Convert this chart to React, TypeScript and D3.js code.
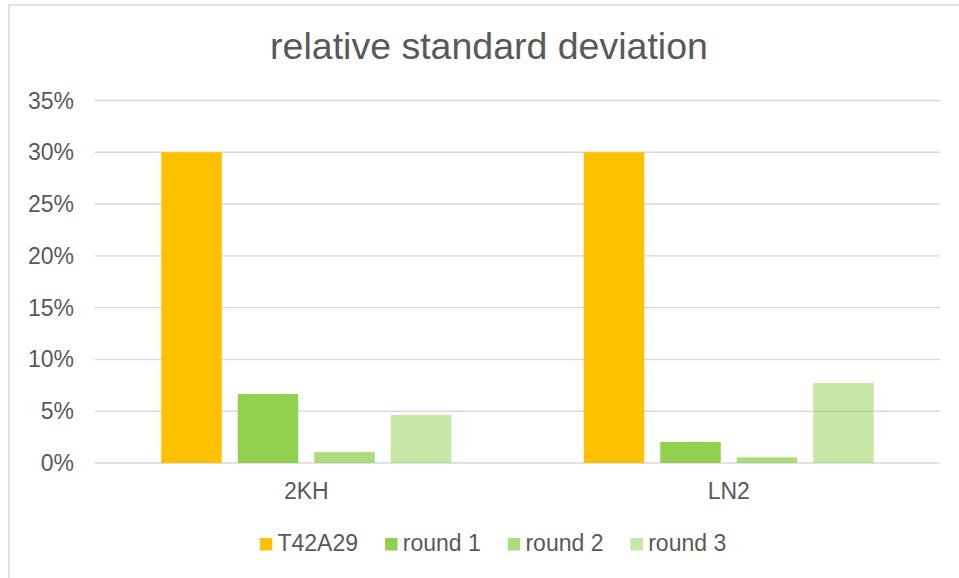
import React, { useEffect, useRef } from "react";
import * as d3 from "d3";

const categories = ["2KH", "LN2"];
const seriesNames = ["T42A29", "round 1", "round 2", "round 3"];
const t42a29 = [0.30, 0.30];
const round1 = [0.0666, 0.0203];
const round2 = [0.0106, 0.0055];
const round3 = [0.0463, 0.0772];
const yTicks = [0, 0.05, 0.10, 0.15, 0.20, 0.25, 0.30, 0.35];
const title = "relative standard deviation";

const seriesValues = [t42a29, round1, round2, round3];
const seriesColors = ["#FFC000", "#92D050", "#92D050", "#92D050"];
const seriesOpacity = [1, 1, 0.75, 0.5];

const W = 959;
const H = 578;
const FONT = "'Liberation Sans', Arial, sans-serif";
const TEXT = "#595959";
const GRID = "#D9D9D9";

export default function App() {
  const ref = useRef<SVGSVGElement | null>(null);

  useEffect(() => {
    const svg = d3.select(ref.current);
    svg.selectAll("*").remove();

    const plotLeft = 95;
    const plotRight = 940;
    const plotTop = 100.5;
    const plotBottom = 463;

    // chart border
    svg.append("rect")
      .attr("x", 9).attr("y", 5)
      .attr("width", 970).attr("height", 600)
      .attr("fill", "#fff")
      .attr("stroke", GRID).attr("stroke-width", 1.6);

    const y = d3.scaleLinear().domain([0, 0.35]).range([plotBottom, plotTop]);
    const x0 = d3.scaleBand<string>().domain(categories).range([plotLeft, plotRight]).padding(0);
    const x1 = d3.scaleBand<string>().domain(seriesNames).range([0, x0.bandwidth()])
      .paddingInner(0.209).paddingOuter(0.866);

    // title
    svg.append("text")
      .attr("x", 489).attr("y", 59)
      .attr("text-anchor", "middle")
      .attr("font-family", FONT).attr("font-size", 37.5)
      .attr("fill", TEXT)
      .text(title);

    // gridlines
    svg.append("g").selectAll("line").data(yTicks).join("line")
      .attr("x1", plotLeft).attr("x2", plotRight)
      .attr("y1", (d) => y(d)).attr("y2", (d) => y(d))
      .attr("stroke", GRID).attr("stroke-width", 1.4);

    // y tick labels
    svg.append("g").selectAll("text").data(yTicks).join("text")
      .attr("x", 74).attr("y", (d) => y(d) + 8)
      .attr("text-anchor", "end")
      .attr("font-family", FONT).attr("font-size", 23)
      .attr("fill", TEXT)
      .text((d) => d3.format(".0%")(d));

    // bars
    const groups = svg.append("g").selectAll("g").data(seriesNames).join("g")
      .attr("fill", (_d, i) => seriesColors[i])
      .attr("fill-opacity", (_d, i) => seriesOpacity[i]);
    groups.selectAll("rect")
      .data((s, i) => categories.map((c, j) => ({ s, c, v: seriesValues[i][j] })))
      .join("rect")
      .attr("x", (d) => (x0(d.c) as number) + (x1(d.s) as number))
      .attr("width", x1.bandwidth())
      .attr("y", (d) => y(d.v))
      .attr("height", (d) => y(0) - y(d.v));

    // category labels
    svg.append("g").selectAll("text").data(categories).join("text")
      .attr("x", (d) => (x0(d) as number) + x0.bandwidth() / 2)
      .attr("y", 499)
      .attr("text-anchor", "middle")
      .attr("font-family", FONT).attr("font-size", 23)
      .attr("fill", TEXT)
      .text((d) => d);

    // legend
    const sq = 12.5;
    const textGap = 5.2;
    const itemGap = 27;
    const legend = svg.append("g");
    const items = seriesNames.map((name, i) => {
      const g = legend.append("g");
      g.append("rect").attr("x", 0).attr("y", 538).attr("width", sq).attr("height", sq)
        .attr("fill", seriesColors[i]).attr("fill-opacity", seriesOpacity[i]);
      const t = g.append("text").attr("x", sq + textGap).attr("y", 551)
        .attr("font-family", FONT).attr("font-size", 23).attr("fill", TEXT).text(name);
      const w = sq + textGap + (t.node() as SVGTextElement).getComputedTextLength();
      return { g, w };
    });
    const total = d3.sum(items, (d) => d.w) + itemGap * (items.length - 1);
    let cx = 493 - total / 2;
    items.forEach((it) => {
      it.g.attr("transform", `translate(${cx},0)`);
      cx += it.w + itemGap;
    });
  }, []);

  return (
    <svg
      ref={ref}
      width={W}
      height={H}
      style={{ position: "absolute", left: 0, top: 0, background: "#fff" }}
    />
  );
}
